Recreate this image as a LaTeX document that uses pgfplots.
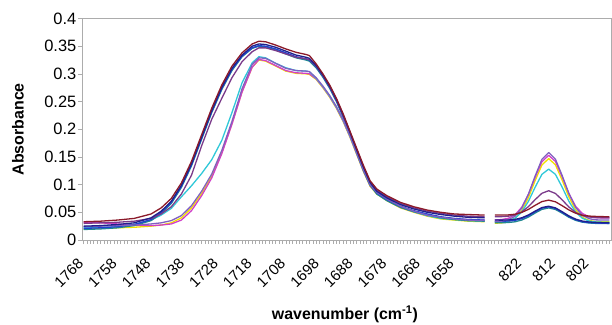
\documentclass[border=0pt]{standalone}
\usepackage{pgfplots}
\pgfplotsset{compat=1.18}
\usepackage{pgfplotstable}
\usepackage{fontspec}
\setmainfont{Liberation Sans}

\definecolor{cdred}{HTML}{8B1A2A}
\definecolor{cnavy}{HTML}{20208A}
\definecolor{cblue}{HTML}{2040D0}
\definecolor{cteal}{HTML}{208890}
\definecolor{cpurple}{HTML}{7A3A8A}
\definecolor{ccyan}{HTML}{30C8D8}
\definecolor{cyellow}{HTML}{F0E000}
\definecolor{cmagenta}{HTML}{D040C8}
\definecolor{cviolet}{HTML}{8060C0}

\pgfplotstableread{
x dred navy blue teal purple cyan yellow magenta violet
0 .033 .025 .021 .019 .030 .022 .020 .032 .024
5 .034 .026 .022 .020 .031 .023 .021 .031 .025
10 .036 .028 .024 .022 .032 .024 .022 .029 .026
15 .039 .031 .028 .026 .034 .028 .023 .027 .027
20 .047 .040 .037 .035 .039 .036 .025 .026 .029
23 .058 .052 .050 .048 .047 .045 .027 .027 .031
26 .075 .070 .068 .066 .060 .057 .031 .029 .035
29 .103 .099 .097 .095 .083 .078 .040 .036 .044
32 .142 .138 .136 .134 .117 .098 .058 .053 .062
35 .190 .186 .184 .182 .170 .120 .084 .080 .088
38 .238 .234 .232 .230 .218 .145 .115 .112 .119
41 .280 .276 .274 .272 .256 .180 .158 .156 .162
44 .314 .310 .308 .306 .293 .230 .210 .209 .214
47 .338 .334 .332 .331 .322 .284 .268 .267 .273
50 .354 .350 .347 .346 .340 .320 .312 .312 .317
52 .359 .354 .351 .350 .347 .331 .325 .326 .329
54 .358 .353 .350 .349 .347 .329 .323 .324 .328
57 .352 .348 .345 .343 .342 .319 .314 .315 .319
60 .345 .341 .338 .336 .336 .311 .305 .306 .310
63 .339 .334 .331 .329 .330 .306 .301 .302 .306
66 .335 .330 .327 .325 .327 .305 .300 .301 .305
67 .333 .328 .325 .323 .326 .304 .299 .300 .304
69 .318 .315 .313 .311 .314 .292 .290 .291 .293
71 .300 .298 .296 .294 .297 .277 .275 .276 .278
73 .280 .278 .276 .274 .277 .260 .258 .259 .261
75 .256 .254 .252 .250 .253 .240 .238 .239 .241
77 .228 .226 .224 .222 .225 .216 .214 .215 .217
79 .197 .195 .193 .191 .195 .188 .186 .187 .189
81 .166 .163 .161 .158 .164 .157 .155 .156 .158
83 .135 .132 .129 .126 .133 .126 .124 .125 .127
85 .107 .104 .101 .099 .105 .099 .097 .098 .100
87 .092 .088 .085 .083 .090 .085 .083 .084 .086
90 .080 .076 .073 .071 .078 .073 .071 .072 .074
94 .068 .064 .061 .059 .066 .060 .058 .059 .061
98 .060 .056 .053 .051 .058 .051 .050 .051 .052
102 .054 .050 .047 .045 .052 .044 .043 .044 .045
106 .050 .046 .042 .040 .048 .039 .038 .040 .041
110 .047 .043 .039 .037 .045 .037 .036 .038 .038
114 .046 .041 .037 .035 .043 .035 .034 .037 .036
119 .045 .040 .036 .034 .042 .034 .033 .036 .035
120 nan nan nan nan nan nan nan nan nan
122 .0450 .0360 .0340 .0310 .0420 .0321 .0302 .0361 .0332
124 .0450 .0359 .0340 .0311 .0422 .0326 .0309 .0369 .0340
126 .0453 .0361 .0342 .0316 .0430 .0343 .0332 .0392 .0364
128 .0466 .0372 .0354 .0329 .0452 .0392 .0392 .0454 .0428
130 .0498 .0401 .0385 .0360 .0507 .0504 .0529 .0590 .0574
132 .0553 .0453 .0438 .0415 .0603 .0699 .0766 .0826 .0827
134 .0627 .0522 .0510 .0488 .0730 .0955 .1075 .1135 .1158
136 .0694 .0586 .0575 .0553 .0844 .1186 .1355 .1414 .1457
138 .0720 .0610 .0600 .0580 .0890 .1280 .1470 .1530 .1580
140 .0690 .0580 .0571 .0552 .0841 .1186 .1359 .1419 .1461
142 .0620 .0511 .0500 .0485 .0725 .0955 .1082 .1144 .1165
144 .0543 .0435 .0424 .0411 .0596 .0699 .0776 .0841 .0837
146 .0484 .0377 .0366 .0355 .0498 .0504 .0543 .0609 .0588
148 .0448 .0342 .0330 .0322 .0441 .0392 .0410 .0478 .0446
150 .0432 .0325 .0314 .0307 .0416 .0343 .0353 .0421 .0385
152 .0426 .0318 .0307 .0300 .0405 .0326 .0333 .0402 .0364
154 .0422 .0313 .0302 .0300 .0401 .0321 .0330 .0399 .0360
156 .0420 .0310 .0300 .0300 .0400 .0320 .0330 .0400 .0360
}\spectra

\begin{document}
\begin{tikzpicture}
\begin{axis}[
  scale only axis, width=529bp, height=221.5bp,
  xmin=-0.5, xmax=156.5, ymin=0, ymax=0.4,
  axis line style={draw=gray!65, line width=0.9bp},
  xtick={0,10,20,30,40,50,60,70,80,90,100,110,130,140,150},
  xticklabels={1768,1758,1748,1738,1728,1718,1708,1698,1688,1678,1668,1658,822,812,802},
  minor xtick={0,1,...,156},
  ytick={0,0.05,0.1,0.15,0.2,0.25,0.3,0.35,0.4},
  yticklabels={0,0.05,0.1,0.15,0.2,0.25,0.3,0.35,0.4},
  tick align=outside, xtick pos=lower, ytick pos=left,
  major tick length=4bp, minor tick length=4bp,
  tick style={draw=gray!65, line width=0.6bp},
  xticklabel style={font=\fontsize{15}{15}\selectfont, xshift=-3bp, yshift=-17bp, rotate=45, anchor=east, inner sep=0pt},
  yticklabel style={font=\fontsize{16.5}{16.5}\selectfont, inner sep=0pt, xshift=-1.5bp},
  xlabel={\bfseries wavenumber (cm\textsuperscript{-1})},
  ylabel={\bfseries Absorbance},
  xlabel style={font=\fontsize{16}{16}\selectfont, at={(axis description cs:0.497,-0.334)}, anchor=center},
  ylabel style={font=\fontsize{16}{16}\selectfont, at={(axis description cs:-0.121,0.5)}, anchor=center},
  unbounded coords=jump,
  every axis plot/.append style={line width=1.3bp, mark=none, line join=round},
]
\addplot[cyellow] table[x=x,y=yellow]{\spectra};
\addplot[cmagenta] table[x=x,y=magenta]{\spectra};
\addplot[ccyan] table[x=x,y=cyan]{\spectra};
\addplot[cteal] table[x=x,y=teal]{\spectra};
\addplot[cblue] table[x=x,y=blue]{\spectra};
\addplot[cviolet] table[x=x,y=violet]{\spectra};
\addplot[cpurple] table[x=x,y=purple]{\spectra};
\addplot[cnavy] table[x=x,y=navy]{\spectra};
\addplot[cdred] table[x=x,y=dred]{\spectra};
\coordinate (sw) at (rel axis cs:0,0);
\coordinate (ne) at (rel axis cs:1,1);
\end{axis}
\pgfresetboundingbox
\path[use as bounding box] ([shift={(-82bp,-85bp)}]sw) rectangle ([shift={(1bp,18.5bp)}]ne);
\end{tikzpicture}
\end{document}
